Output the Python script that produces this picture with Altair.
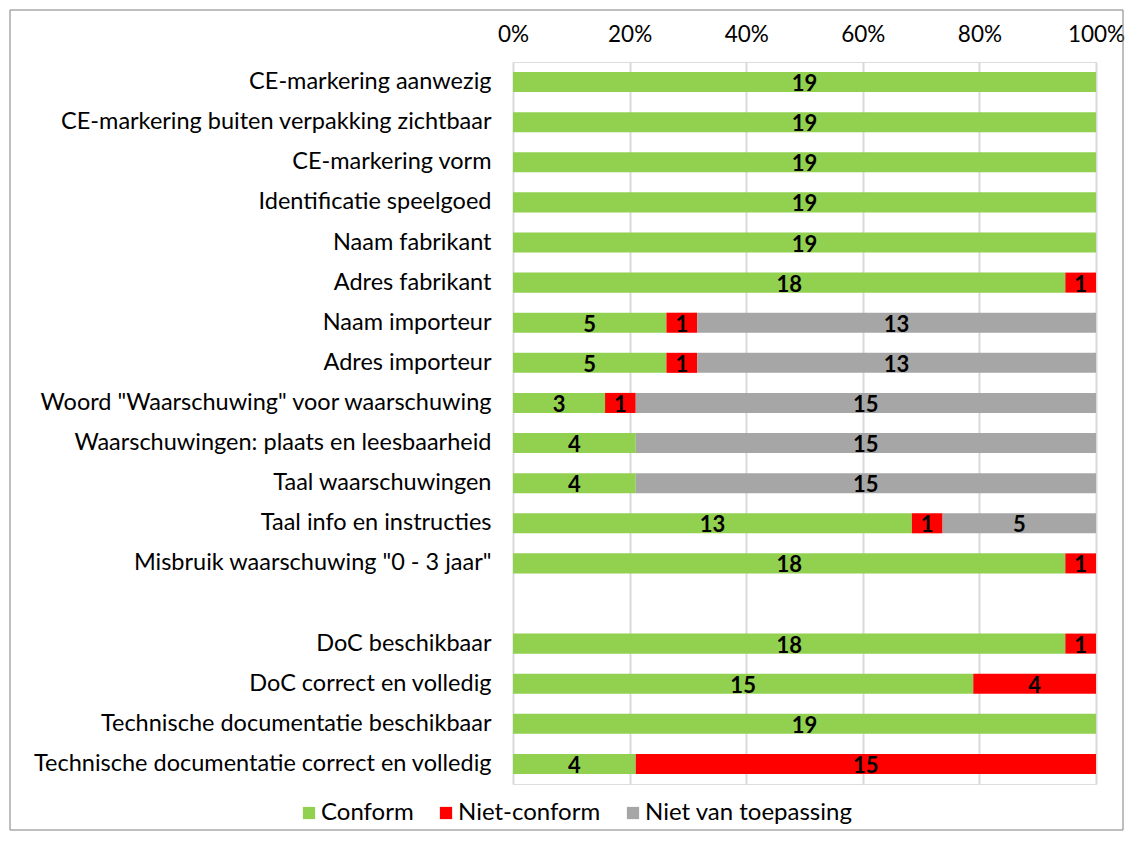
import altair as alt
import pandas as pd

items = [
    "CE-markering aanwezig",
    "CE-markering buiten verpakking zichtbaar",
    "CE-markering vorm",
    "Identificatie speelgoed",
    "Naam fabrikant",
    "Adres fabrikant",
    "Naam importeur",
    "Adres importeur",
    'Woord "Waarschuwing" voor waarschuwing',
    "Waarschuwingen: plaats en leesbaarheid",
    "Taal waarschuwingen",
    "Taal info en instructies",
    'Misbruik waarschuwing "0 - 3 jaar"',
    "DoC beschikbaar",
    "DoC correct en volledig",
    "Technische documentatie beschikbaar",
    "Technische documentatie correct en volledig",
]
conform = [19, 19, 19, 19, 19, 18, 5, 5, 3, 4, 4, 13, 18, 18, 15, 19, 4]
niet_conform = [0, 0, 0, 0, 0, 1, 1, 1, 1, 0, 0, 1, 1, 1, 4, 0, 15]
niet_van_toepassing = [0, 0, 0, 0, 0, 0, 13, 13, 15, 15, 15, 5, 0, 0, 0, 0, 0]

categories = ["Conform", "Niet-conform", "Niet van toepassing"]
colors = ["#92D050", "#FF0000", "#A6A6A6"]
ticks = [0, 0.2, 0.4, 0.6, 0.8, 1.0]

blank = " "
domain_order = items[:13] + [blank] + items[13:]

rows = []
for i, it in enumerate(items):
    for k, (cat, vals) in enumerate(zip(categories, [conform, niet_conform, niet_van_toepassing])):
        rows.append({"item": it, "cat": cat, "order": k, "value": vals[i]})
df = pd.DataFrame(rows)

W, H = 583, 722
PL, PT, PR, PB = 505, 54, 29, 50

base = (
    alt.Chart(df)
    .transform_filter("datum.value > 0")
    .transform_stack(
        stack="value",
        groupby=["item"],
        as_=["x0", "x1"],
        offset="normalize",
        sort=[alt.SortField("order", order="ascending")],
    )
    .transform_calculate(mid="(datum.x0 + datum.x1) / 2")
)

yenc = alt.Y(
    "item:N",
    sort=domain_order,
    scale=alt.Scale(domain=domain_order, paddingInner=0.5, paddingOuter=0.25),
    axis=alt.Axis(
        title=None, ticks=False, domain=False, labelPadding=22,
        labelFontSize=23.5, labelFont="Lato", labelColor="black", labelLimit=700,
    ),
)

bars = base.mark_bar().encode(
    x=alt.X(
        "x0:Q",
        scale=alt.Scale(domain=[0, 1]),
        axis=alt.Axis(
            orient="top", format="%", values=ticks, title=None, ticks=False,
            domain=False, labelFontSize=22.5, labelFont="Lato", labelColor="black",
            labelPadding=16, labelFlush=False, grid=True, gridColor="#D9D9D9", gridWidth=2,
        ),
    ),
    x2="x1:Q",
    y=yenc,
    color=alt.Color(
        "cat:N",
        scale=alt.Scale(domain=categories, range=colors),
        legend=alt.Legend(
            title=None, orient="none", legendX=-216, legendY=739,
            direction="horizontal", symbolType="square", symbolSize=150,
            symbolStrokeWidth=0, labelFont="Lato", labelFontSize=24,
            labelColor="black", columnPadding=20, labelOffset=0, labelLimit=400,
        ),
    ),
    order=alt.Order("order:Q"),
)

labels = base.mark_text(
    font="Lato", fontWeight="bold", fontSize=22, color="black", baseline="middle", dy=2
).encode(
    x=alt.X("mid:Q"),
    y=alt.Y("item:N", sort=domain_order),
    text=alt.Text("value:Q"),
)

border = alt.Chart(pd.DataFrame({"a": [0]})).mark_rect(
    fill=None, stroke="#7F7F7F", strokeWidth=1
).encode(
    x=alt.value(-PL + 2), x2=alt.value(W + PR - 2),
    y=alt.value(-PT + 2), y2=alt.value(H + PB - 4),
)

chart = (
    alt.layer(bars, labels, border)
    .properties(
        width=W, height=H,
        autosize=alt.AutoSizeParams(type="none"),
        padding={"left": PL, "top": PT, "right": PR, "bottom": PB},
    )
    .configure_view(stroke=None)
    .configure(background="white")
)

chart.save("out.html", embed_options={"renderer": "svg", "actions": False})
